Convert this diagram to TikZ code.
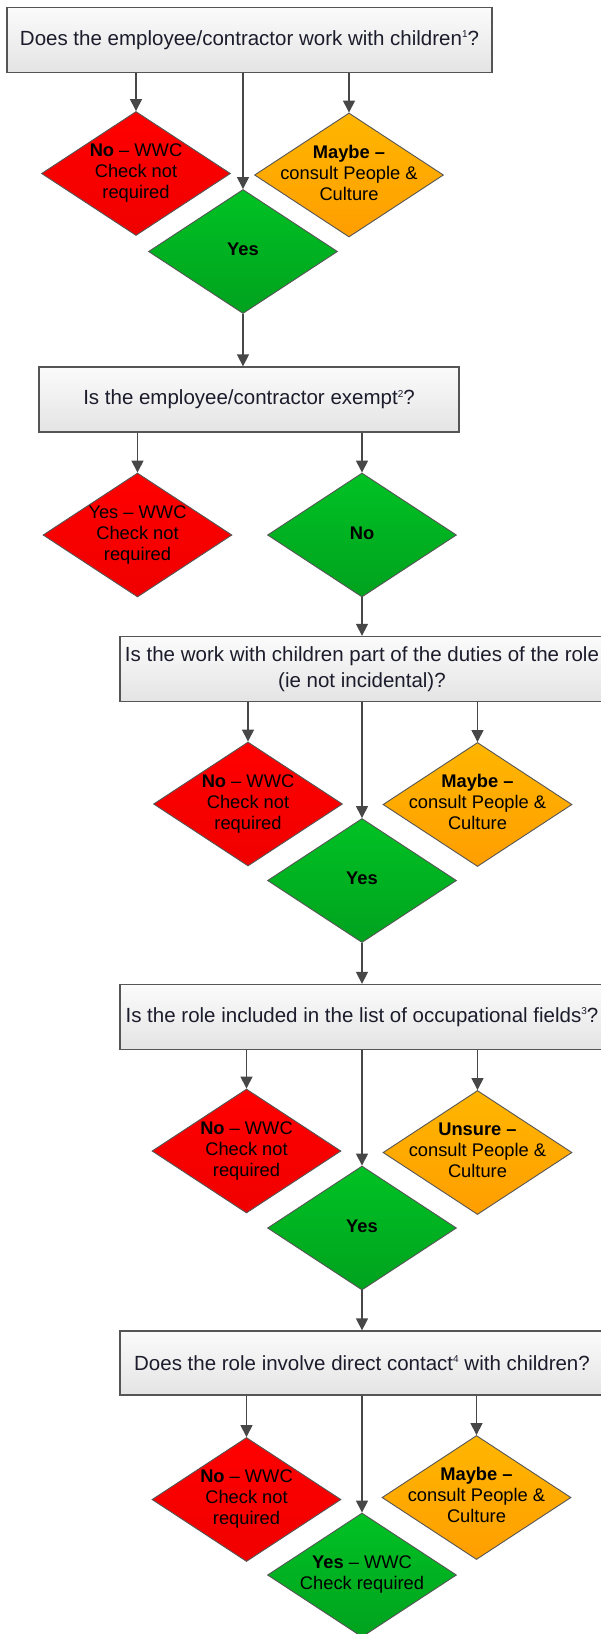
\documentclass[tikz,border=0pt]{standalone}
\usepackage{fontspec}
\setmainfont{Liberation Sans}
\usetikzlibrary{shapes.geometric,arrows.meta}
\definecolor{boxtop}{HTML}{FBFBFB}
\definecolor{boxbot}{HTML}{E4E4E4}
\definecolor{edgegray}{HTML}{555555}
\definecolor{linkgray}{HTML}{474747}
\definecolor{redtop}{HTML}{FF0000}
\definecolor{redbot}{HTML}{F00000}
\definecolor{ambertop}{HTML}{FFB600}
\definecolor{amberbot}{HTML}{FF9E00}
\definecolor{greentop}{HTML}{00C224}
\definecolor{greenbot}{HTML}{00A21E}
\definecolor{asktext}{HTML}{1C1C2C}
\newcommand{\diamtext}[1]{\makebox[0pt]{\begin{tabular}{@{}c@{}}#1\end{tabular}}}
\newcommand{\fnmark}[1]{\raisebox{7.5pt}{\fontsize{10}{10}\selectfont #1}}
\begin{document}
\begin{tikzpicture}[x=1pt, y=-1pt,
  question/.style={draw=edgegray, line width=1.3pt, top color=boxtop, bottom color=boxbot,
    minimum width=484pt, minimum height=65pt, inner sep=2pt, align=center, text=asktext,
    font=\fontsize{20.5}{25.6}\selectfont},
  answer/.style={diamond, draw=edgegray, line width=0.9pt, minimum width=189pt,
    minimum height=124pt, inner sep=0pt, font=\fontsize{18.3}{21}\selectfont},
  nocheck/.style={answer, top color=redtop, bottom color=redbot},
  unsure/.style={answer, top color=ambertop, bottom color=amberbot},
  proceed/.style={answer, top color=greentop, bottom color=greenbot},
  link/.style={draw=linkgray, line width=1.4pt, -{Triangle[length=12pt,width=12pt]}}]
\useasboundingbox (0,0) rectangle (601,1634);
\clip (0,0) rectangle (601,1634);

\node[question, minimum width=485pt] (q1) at (249.5,40) {Does the employee/contractor work with children\fnmark{1}?};
\node[nocheck] (r1) at (136,173.5) {\diamtext{\textbf{No} – WWC\\Check not\\required}};
\node[unsure] (y1) at (349,175) {\diamtext{\textbf{Maybe –}\\consult People \&\\Culture}};
\node[proceed] (g1) at (243,251.5) {\diamtext{\textbf{Yes}}};
\draw[link] (q1.south -| r1) -- (r1.north);
\draw[link] (q1.south -| g1) -- (g1.north);
\draw[link] (q1.south -| y1) -- (y1.north);

\node[question, minimum width=420pt] (q2) at (249,399.5) {Is the employee/contractor exempt\fnmark{2}?};
\node[nocheck] (r2) at (137.5,535) {\diamtext{Yes – WWC\\Check not\\required}};
\node[proceed] (g2) at (362,535) {\diamtext{\textbf{No}}};
\draw[link] (g1.south) -- (g1.south |- q2.north);
\draw[link] (q2.south -| r2) -- (r2.north);
\draw[link] (q2.south -| g2) -- (g2.north);

\node[question] (q3) at (362,669) {Is the work with children part of the duties of the role\\(ie not incidental)?};
\node[nocheck] (r3) at (248,804) {\diamtext{\textbf{No} – WWC\\Check not\\required}};
\node[unsure] (y3) at (477.5,804.5) {\diamtext{\textbf{Maybe –}\\consult People \&\\Culture}};
\node[proceed] (g3) at (362,880.5) {\diamtext{\textbf{Yes}}};
\draw[link] (g2.south) -- (q3.north);
\draw[link] (q3.south -| r3) -- (r3.north);
\draw[link] (q3.south) -- (g3.north);
\draw[link] (q3.south -| y3) -- (y3.north);

\node[question] (q4) at (362,1017) {Is the role included in the list of occupational fields\fnmark{3}?};
\node[nocheck] (r4) at (246.5,1151) {\diamtext{\textbf{No} – WWC\\Check not\\required}};
\node[unsure] (y4) at (477.5,1152.5) {\diamtext{\textbf{Unsure –}\\consult People \&\\Culture}};
\node[proceed] (g4) at (362,1228) {\diamtext{\textbf{Yes}}};
\draw[link] (g3.south) -- (q4.north);
\draw[link] (q4.south -| r4) -- (r4.north);
\draw[link] (q4.south) -- (g4.north);
\draw[link] (q4.south -| y4) -- (y4.north);

\node[question, minimum height=64pt] (q5) at (362,1363) {Does the role involve direct contact\fnmark{4} with children?};
\node[nocheck] (r5) at (246.5,1499.5) {\diamtext{\textbf{No} – WWC\\Check not\\required}};
\node[unsure] (y5) at (476.5,1497.5) {\diamtext{\textbf{Maybe –}\\consult People \&\\Culture}};
\node[proceed] (g5) at (362,1575) {\diamtext{\textbf{Yes} – WWC\\Check required}};
\draw[link] (g4.south) -- (q5.north);
\draw[link] (q5.south -| r5) -- (r5.north);
\draw[link] (q5.south) -- (g5.north);
\draw[link] (q5.south -| y5) -- (y5.north);
\end{tikzpicture}
\end{document}
